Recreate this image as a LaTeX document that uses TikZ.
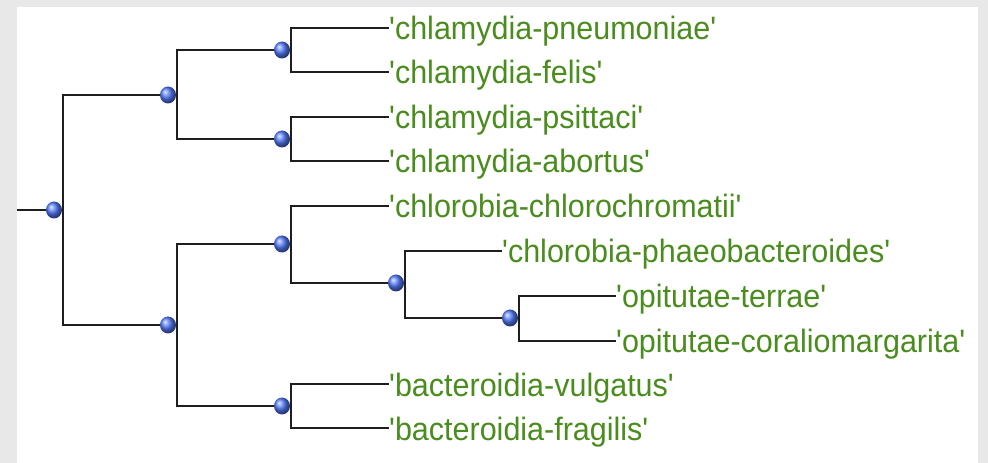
\documentclass[tikz,border=0pt]{standalone}
\usepackage{fontspec}
\setmainfont{Liberation Sans}
\usetikzlibrary{shapes.geometric}
\definecolor{bggray}{HTML}{E8E8E8}
\definecolor{leafgreen}{RGB}{74,140,30}
\definecolor{ballblue}{RGB}{85,125,255}
\definecolor{branch}{HTML}{1E1E1E}
\newcommand{\qlabel}[1]{\textquotesingle#1\textquotesingle}
\tikzset{
  ballnode/.style={ellipse, inner sep=0pt, minimum width=16bp, minimum height=17bp, ball color=ballblue},
  leaflabel/.style={anchor=base west, inner sep=0pt, text=leafgreen, yscale=1.06, font=\fontsize{30.5bp}{36bp}\selectfont},
  branchline/.style={draw=branch, line width=2.5bp},
}
\begin{document}
\begin{tikzpicture}[x=1bp,y=-1bp]
\fill[bggray] (0,0) rectangle (988,463);
\fill[white] (17,7) rectangle (978,463);
\useasboundingbox (0,0) rectangle (988,463);
% internal node positions
\coordinate (root) at (54,210);
\coordinate (A) at (168,95);
\coordinate (A1) at (282,50);
\coordinate (A2) at (282,139);
\coordinate (B) at (168,325);
\coordinate (B1) at (282,244);
\coordinate (B1b) at (396,283);
\coordinate (B1c) at (510,318);
\coordinate (B2) at (282,406);
\coordinate (stem) at (17,210);
% leaves
\node[leaflabel] (l1) at (389,40) {\qlabel{chlamydia-pneumoniae}};
\node[leaflabel] (l2) at (389,84) {\qlabel{chlamydia-felis}};
\node[leaflabel] (l3) at (389,129) {\qlabel{chlamydia-psittaci}};
\node[leaflabel] (l4) at (389,173) {\qlabel{chlamydia-abortus}};
\node[leaflabel] (l5) at (389,218) {\qlabel{chlorobia-chlorochromatii}};
\node[leaflabel] (l6) at (502,263) {\qlabel{chlorobia-phaeobacteroides}};
\node[leaflabel] (l7) at (616,308) {\qlabel{opitutae-terrae}};
\node[leaflabel] (l8) at (616,353) {\qlabel{opitutae-coraliomargarita}};
\node[leaflabel] (l9) at (389,396) {\qlabel{bacteroidia-vulgatus}};
\node[leaflabel] (l10) at (389,440) {\qlabel{bacteroidia-fragilis}};
% branches
\draw[branchline] (stem) -- (root);
\draw[branchline] (root) -- ++(9,0);
\draw[branchline] ([xshift=9bp]root) |- (A);
\draw[branchline] ([xshift=9bp]root) |- (B);
\draw[branchline] (A) -- ++(9,0);
\draw[branchline] ([xshift=9bp]A) |- (A1);
\draw[branchline] ([xshift=9bp]A) |- (A2);
\draw[branchline] (B) -- ++(9,0);
\draw[branchline] ([xshift=9bp]B) |- (B1);
\draw[branchline] ([xshift=9bp]B) |- (B2);
\draw[branchline] ([xshift=9bp]A1) |- ([yshift=12bp]l1.base west);
\draw[branchline] ([xshift=9bp]A1) |- ([yshift=12bp]l2.base west);
\draw[branchline] ([xshift=9bp]A2) |- ([yshift=12bp]l3.base west);
\draw[branchline] ([xshift=9bp]A2) |- ([yshift=12bp]l4.base west);
\draw[branchline] ([xshift=9bp]B1) |- ([yshift=12bp]l5.base west);
\draw[branchline] ([xshift=9bp]B1) |- (B1b);
\draw[branchline] ([xshift=9bp]B1b) |- ([yshift=12bp]l6.base west);
\draw[branchline] ([xshift=9bp]B1b) |- (B1c);
\draw[branchline] ([xshift=9bp]B1c) |- ([yshift=12bp]l7.base west);
\draw[branchline] ([xshift=9bp]B1c) |- ([yshift=12bp]l8.base west);
\draw[branchline] ([xshift=9bp]B2) |- ([yshift=12bp]l9.base west);
\draw[branchline] ([xshift=9bp]B2) |- ([yshift=12bp]l10.base west);
% balls
\foreach \n in {root,A,A1,A2,B,B1,B1b,B1c,B2}{
  \node[ballnode] (ball\n) at (\n) {};
}
\end{tikzpicture}
\end{document}
